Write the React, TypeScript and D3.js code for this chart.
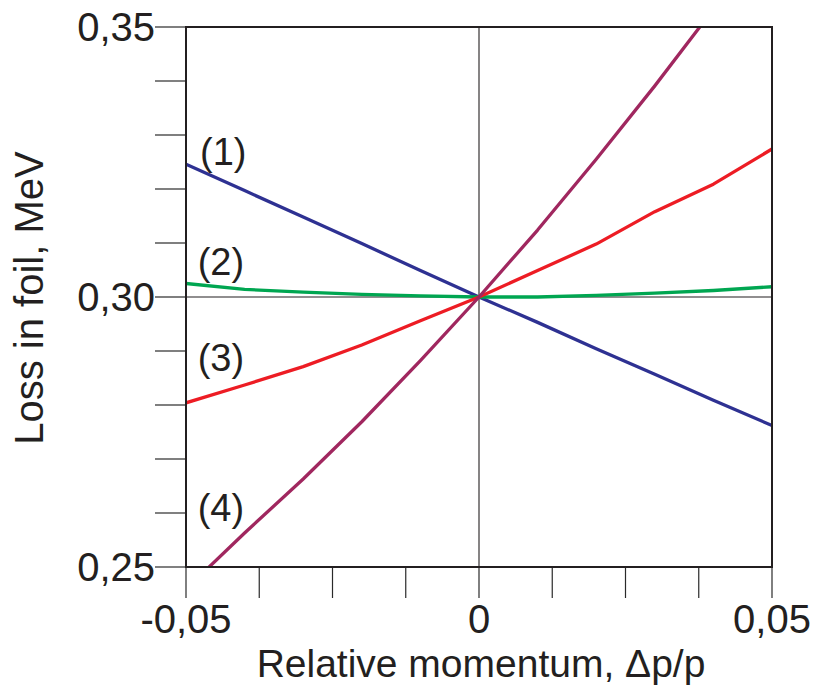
import React from "react";
import * as d3 from "d3";

// Relative momentum Δp/p sampled every 0.01
const momentum = [-0.05, -0.04, -0.03, -0.02, -0.01, 0, 0.01, 0.02, 0.03, 0.04, 0.05];

// Energy loss in foil (MeV) for each case
const loss1 = [0.3246, 0.3197, 0.3148, 0.3099, 0.3049, 0.3, 0.2953, 0.2904, 0.2857, 0.2809, 0.2762];
const loss2 = [0.3025, 0.3014, 0.3009, 0.3005, 0.3002, 0.3, 0.3, 0.3003, 0.3007, 0.3012, 0.3019];
const loss3 = [0.2804, 0.2837, 0.2871, 0.2911, 0.2956, 0.3, 0.3049, 0.3098, 0.3158, 0.3209, 0.3274];
const loss4 = [0.2459, 0.2563, 0.2663, 0.2769, 0.2882, 0.3, 0.3124, 0.3255, 0.3391, 0.3533, 0.3680];

const seriesNames = ["(1)", "(2)", "(3)", "(4)"];
const seriesColors = ["#2e3192", "#00a651", "#ed1c24", "#a0275f"];

const xMajorTicks = [-0.05, 0, 0.05];
const xMajorLabels = ["-0,05", "0", "0,05"];
const yMajorTicks = [0.25, 0.3, 0.35];
const yMajorLabels = ["0,25", "0,30", "0,35"];

const W = 817;
const H = 693;
const left = 186;
const right = 772;
const top = 27;
const bottom = 567;

const textColor = "#231f20";
const font = "'Liberation Sans', Arial, Helvetica, sans-serif";

export default function App() {
  const x = d3.scaleLinear().domain([-0.05, 0.05]).range([left, right]);
  const y = d3.scaleLinear().domain([0.25, 0.35]).range([bottom, top]);

  const xMinor = d3.range(0, 9).map((i) => -0.05 + i * 0.0125);
  const yMinor = d3.range(0, 11).map((i) => 0.25 + i * 0.01);

  const series = [loss1, loss2, loss3, loss4];
  const line = d3
    .line<number>()
    .x((_, i) => x(momentum[i]))
    .y((d) => y(d));

  // label anchors (data coords): near the left edge, above each curve
  const labelPos = [
    { vx: -0.0476, vy: 0.32445 },
    { vx: -0.0480, vy: 0.30400 },
    { vx: -0.0480, vy: 0.28630 },
    { vx: -0.0480, vy: 0.25850 },
  ];

  return (
    <svg
      width={W}
      height={H}
      style={{ position: "absolute", left: 0, top: 0, background: "#fff" }}
      fontFamily={font}
    >
      <defs>
        <clipPath id="plot-area">
          <rect x={left} y={top} width={right - left} height={bottom - top} />
        </clipPath>
      </defs>

      {/* reference lines through the origin point */}
      <line x1={x(0)} x2={x(0)} y1={top} y2={bottom} stroke={textColor} strokeWidth={1.1} />
      <line x1={left} x2={right} y1={y(0.3)} y2={y(0.3)} stroke={textColor} strokeWidth={1.1} />

      {/* y ticks (outward) */}
      {yMinor.map((v, i) => (
        <line
          key={"yt" + i}
          x1={left - 31}
          x2={left}
          y1={y(v)}
          y2={y(v)}
          stroke="#2a2a2a"
          strokeWidth={1.2}
        />
      ))}
      {/* x ticks (outward) */}
      {xMinor.map((v, i) => (
        <line
          key={"xt" + i}
          x1={x(v)}
          x2={x(v)}
          y1={bottom}
          y2={bottom + 31}
          stroke="#2a2a2a"
          strokeWidth={1.2}
        />
      ))}

      {/* curves */}
      <g clipPath="url(#plot-area)">
        {series.map((s, i) => (
          <path
            key={"s" + i}
            d={line(s) || ""}
            fill="none"
            stroke={seriesColors[i]}
            strokeWidth={3.3}
            strokeLinejoin="round"
          />
        ))}
      </g>

      {/* frame */}
      <rect
        x={left}
        y={top}
        width={right - left}
        height={bottom - top}
        fill="none"
        stroke={textColor}
        strokeWidth={2}
      />

      {/* curve labels */}
      {labelPos.map((p, i) => (
        <text
          key={"lab" + i}
          x={x(p.vx)}
          y={y(p.vy)}
          fontSize={38}
          fill={textColor}
        >
          {seriesNames[i]}
        </text>
      ))}

      {/* tick labels */}
      {yMajorTicks.map((v, i) => (
        <text
          key={"yl" + i}
          x={left - 31}
          y={y(v) + 14}
          fontSize={40}
          textAnchor="end"
          fill={textColor}
        >
          {yMajorLabels[i]}
        </text>
      ))}
      {xMajorTicks.map((v, i) => (
        <text
          key={"xl" + i}
          x={x(v)}
          y={633}
          fontSize={40}
          textAnchor="middle"
          fill={textColor}
        >
          {xMajorLabels[i]}
        </text>
      ))}

      {/* axis titles */}
      <text x={481} y={677} fontSize={39} textAnchor="middle" fill={textColor}>
        Relative momentum, Δp/p
      </text>
      <text
        transform={`translate(43, 298) rotate(-90)`}
        fontSize={40}
        textAnchor="middle"
        fill={textColor}
      >
        Loss in foil, MeV
      </text>
    </svg>
  );
}
